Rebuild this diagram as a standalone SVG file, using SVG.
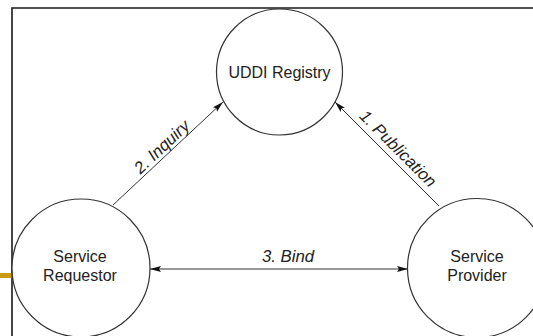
<svg xmlns="http://www.w3.org/2000/svg" width="533" height="336" viewBox="0 0 533 336">
  <style>
    .node { fill: #ffffff; stroke: #333333; stroke-width: 1.2; }
    .name { font-family: "Liberation Sans", Arial, sans-serif; font-size: 16px; fill: #222222; text-anchor: middle; }
    .edge { stroke: #333333; stroke-width: 1; fill: none; }
    .label { font-family: "Liberation Sans", Arial, sans-serif; font-size: 16.8px; font-style: italic; fill: #222222; text-anchor: middle; }
    .frame { stroke: #1a1a1a; stroke-width: 1.6; fill: none; }
  </style>
  <defs>
    <marker id="arrow" markerUnits="userSpaceOnUse" markerWidth="12" markerHeight="8" refX="11" refY="3.5" orient="auto-start-reverse">
      <path d="M0,0.5 L11,3.5 L0,6.5 L2,3.5 Z" fill="#111111"/>
    </marker>
  </defs>

  <rect width="533" height="336" fill="#ffffff"/>

  <!-- page frame and accent bar -->
  <g id="frame">
    <path class="frame" d="M533,8 H12 V336"/>
    <rect x="0" y="273" width="11.5" height="5" fill="#C99A0E"/>
  </g>

  <!-- connectors -->
  <g id="connectors">
    <line class="edge" x1="113" y1="205" x2="223" y2="102" marker-end="url(#arrow)"/>
    <line class="edge" x1="439" y1="206" x2="335" y2="102" marker-end="url(#arrow)"/>
    <line class="edge" x1="150" y1="269" x2="408" y2="269" marker-start="url(#arrow)" marker-end="url(#arrow)"/>
    <text class="label" transform="translate(165.6,151) rotate(-43.2)">2. Inquiry</text>
    <text class="label" transform="translate(394,152.6) rotate(45)">1. Publication</text>
    <text class="label" x="288" y="262">3. Bind</text>
  </g>

  <!-- nodes -->
  <g id="uddi-registry">
    <circle class="node" cx="279.5" cy="72" r="63"/>
    <text class="name" x="279.5" y="78">UDDI Registry</text>
  </g>
  <g id="service-requestor">
    <circle class="node" cx="81" cy="268" r="69"/>
    <text class="name" x="80" y="262">Service</text>
    <text class="name" x="80" y="281">Requestor</text>
  </g>
  <g id="service-provider">
    <circle class="node" cx="477" cy="268" r="69.5"/>
    <text class="name" x="477" y="262">Service</text>
    <text class="name" x="477" y="281">Provider</text>
  </g>
</svg>
